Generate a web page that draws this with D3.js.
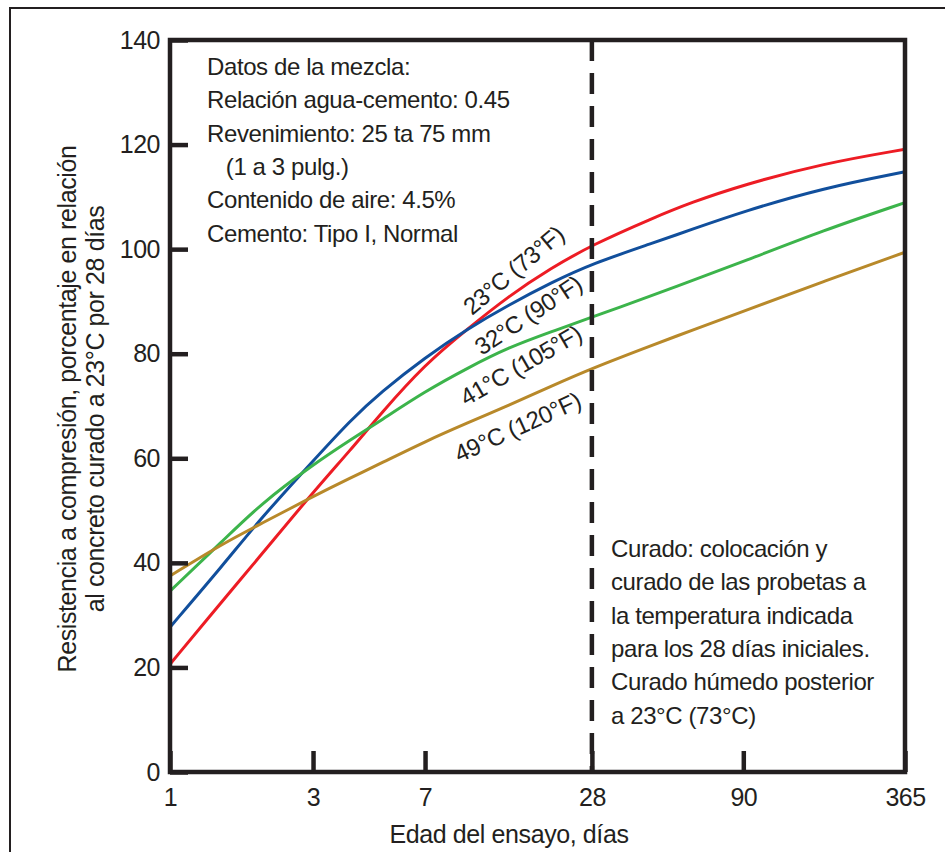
<!DOCTYPE html>
<html>
<head>
<meta charset="utf-8">
<script src="https://cdn.jsdelivr.net/npm/d3@7"></script>
<style>
  body { margin: 0; background: #fff; }
  svg { display: block; font-family: "Liberation Sans", Arial, sans-serif; }
</style>
</head>
<body>
<svg id="chart" width="945" height="852"></svg>
<script>
// age of test, days (log axis)
var days = [1, 1.5, 2, 3, 4, 5, 7, 10, 14, 20, 28, 45, 60, 90, 180, 365];
// strength, % of 28-day strength cured at 23C
var s23 = [20.6, 32.8, 41.3, 53.5, 61.7, 68.5, 78.0, 84.8, 91.0, 96.4, 100.8, 106.0, 108.9, 112.3, 116.4, 119.1];
var s32 = [27.7, 39.5, 48.4, 59.5, 67.4, 72.6, 79.3, 84.8, 89.3, 93.6, 97.2, 101.2, 103.7, 107.2, 111.7, 114.8];
var s41 = [34.6, 44.2, 51.2, 58.8, 63.6, 67.2, 72.8, 77.3, 81.2, 84.2, 87.0, 91.2, 93.9, 97.6, 103.6, 108.9];
var s49 = [37.5, 43.7, 47.4, 52.7, 56.3, 59.0, 63.2, 66.8, 70.1, 73.8, 77.2, 81.7, 84.4, 88.1, 93.8, 99.4];

var seriesLabels = ["23°C (73°F)", "32°C (90°F)", "41°C (105°F)", "49°C (120°F)"];
var xTicks = [1, 3, 7, 28, 90, 365];
var yTicks = [0, 20, 40, 60, 80, 100, 120, 140];
var mixNotes = ["Datos de la mezcla:", "Relación agua-cemento: 0.45", "Revenimiento: 25 ta 75 mm",
  "   (1 a 3 pulg.)", "Contenido de aire: 4.5%", "Cemento: Tipo I, Normal"];
var cureNotes = ["Curado: colocación y", "curado de las probetas a", "la temperatura indicada",
  "para los 28 días iniciales.", "Curado húmedo posterior", "a 23°C (73°C)"];

var ink = "#231f20";
var colors = ["#ed1c24", "#114f9c", "#3cb44b", "#b8892a"];

var svg = d3.select("#chart");
var pLeft = 170, pRight = 905, pTop = 40, pBottom = 772;
var pW = pRight - pLeft;

// the printed axis is a hand-spaced log axis, so calibrate it piecewise
var x = d3.scaleLog()
  .domain(xTicks)
  .range([0, 0.1946, 0.347, 0.574, 0.78, 1].map(function(f){ return pLeft + f * pW; }));
var y = d3.scaleLinear().domain([0, 140]).range([pBottom, pTop]);

// outer page border
svg.append("path")
  .attr("d", "M10,852 V8 H945")
  .attr("fill", "none").attr("stroke", ink).attr("stroke-width", 2);

var line = d3.line()
  .x(function(d){ return x(d[0]); })
  .y(function(d){ return y(d[1]); })
  .curve(d3.curveBasis);

[s23, s32, s41, s49].forEach(function(s, i){
  svg.append("path")
    .datum(days.map(function(d, j){ return [d, s[j]]; }))
    .attr("d", line)
    .attr("fill", "none")
    .attr("stroke", colors[i])
    .attr("stroke-width", 3);
});

// dashed line at 28 days
svg.append("line")
  .attr("x1", x(28)).attr("x2", x(28))
  .attr("y1", y(140)).attr("y2", y(0))
  .attr("stroke", ink).attr("stroke-width", 4.5)
  .attr("stroke-dasharray", "21,12");

// frame
svg.append("rect")
  .attr("x", pLeft).attr("y", pTop)
  .attr("width", pW).attr("height", pBottom - pTop)
  .attr("fill", "none").attr("stroke", ink).attr("stroke-width", 4.5);

var yAxis = svg.append("g")
  .attr("transform", "translate(" + pLeft + ",0)")
  .call(d3.axisLeft(y).tickValues(yTicks).tickSize(-18).tickPadding(10));
var xAxis = svg.append("g")
  .attr("transform", "translate(0," + pBottom + ")")
  .call(d3.axisBottom(x).tickValues(xTicks).tickFormat(d3.format("d")).tickSize(-21).tickPadding(16));

[yAxis, xAxis].forEach(function(g){
  g.select(".domain").remove();
  g.selectAll("line").attr("stroke", ink).attr("stroke-width", 4.5);
  g.selectAll("text").attr("fill", ink).style("font-size", "25px").style("letter-spacing", "-0.5px");
});

// axis titles
svg.append("text")
  .attr("x", 509).attr("y", 843)
  .attr("text-anchor", "middle")
  .attr("fill", ink).style("font-size", "25px").style("letter-spacing", "-0.4px")
  .text("Edad del ensayo, días");

var yTitle = ["Resistencia a compresión, porcentaje en relación", "al concreto curado a 23°C por 28 días"];
yTitle.forEach(function(t, i){
  svg.append("text")
    .attr("transform", "translate(" + (76 + i * 28) + ",409) rotate(-90)")
    .attr("text-anchor", "middle")
    .attr("fill", ink).style("font-size", "25px").style("letter-spacing", "-0.4px")
    .text(t);
});

// curve labels, placed in data space
var labelAt = [[14.6, 96, -40], [16.5, 87.4, -33.5], [15.5, 77.8, -30], [15.1, 66, -24.5]];
seriesLabels.forEach(function(t, i){
  var p = labelAt[i];
  svg.append("text")
    .attr("transform", "translate(" + x(p[0]) + "," + y(p[1]) + ") rotate(" + p[2] + ")")
    .attr("text-anchor", "middle")
    .attr("dominant-baseline", "central")
    .attr("fill", ink).style("font-size", "24px").style("letter-spacing", "-0.4px")
    .text(t);
});

// notes
function notes(lines, x0, y0){
  svg.append("text")
    .attr("fill", ink).style("font-size", "24px").style("letter-spacing", "-0.4px")
    .attr("xml:space", "preserve")
    .selectAll("tspan").data(lines).join("tspan")
    .attr("x", x0).attr("y", function(d, i){ return y0 + i * 33.3; })
    .text(function(d){ return d; });
}
notes(mixNotes, 207, 75);
notes(cureNotes, 611, 557);
</script>
</body>
</html>
